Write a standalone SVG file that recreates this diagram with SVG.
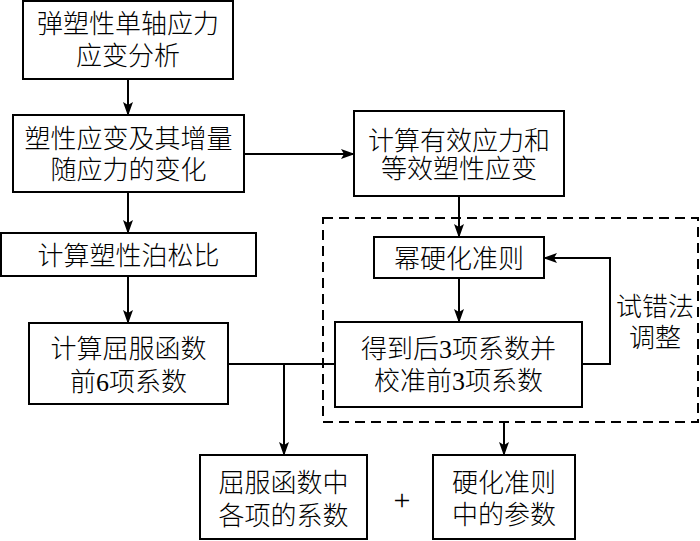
<svg xmlns="http://www.w3.org/2000/svg" width="700" height="541" viewBox="0 0 700 541">
<style>
.box{fill:#fff;stroke:#000;stroke-width:2}
.t{font-family:"Liberation Serif","Noto Sans CJK SC",serif;font-size:26px;font-weight:300;fill:#000;text-anchor:middle}
.c{fill:none;stroke:#000;stroke-width:2}
.dash{fill:none;stroke:#000;stroke-width:2;stroke-dasharray:10 6}
</style>
<defs>
<marker id="ah" markerWidth="14" markerHeight="10" refX="13" refY="5" orient="auto" markerUnits="userSpaceOnUse">
<path d="M0,0 L14,5 L0,10 L3,5 z" fill="#000"/>
</marker>
</defs>
<rect class="dash" x="323" y="218" width="375" height="204"/>
<g id="connectors">
<path class="c" d="M128,79 V115" marker-end="url(#ah)"/>
<path class="c" d="M128,192 V233" marker-end="url(#ah)"/>
<path class="c" d="M128,276 V323" marker-end="url(#ah)"/>
<path class="c" d="M244,154 H354" marker-end="url(#ah)"/>
<path class="c" d="M459,196 V237" marker-end="url(#ah)"/>
<path class="c" d="M459,278 V322" marker-end="url(#ah)"/>
<path class="c" d="M228,364 H335"/>
<path class="c" d="M284,364 V455" marker-end="url(#ah)"/>
<path class="c" d="M582,364 H610 V258 H544" marker-end="url(#ah)"/>
<path class="c" d="M504,422 V455" marker-end="url(#ah)"/>
</g>
<g id="n1"><rect class="box" x="23" y="1" width="210" height="78"/>
<text class="t" x="128" y="33">弹塑性单轴应力</text><text class="t" x="128" y="65">应变分析</text></g>
<g id="n2"><rect class="box" x="13" y="115" width="231" height="77"/>
<text class="t" x="128.5" y="148">塑性应变及其增量</text><text class="t" x="128.5" y="179">随应力的变化</text></g>
<g id="n3"><rect class="box" x="1" y="233" width="255" height="43"/>
<text class="t" x="128.5" y="265">计算塑性泊松比</text></g>
<g id="n4"><rect class="box" x="29" y="323" width="199" height="81"/>
<text class="t" x="128.5" y="358">计算屈服函数</text><text class="t" x="128.5" y="391">前6项系数</text></g>
<g id="n5"><rect class="box" x="354" y="111" width="210" height="85"/>
<text class="t" x="459" y="150">计算有效应力和</text><text class="t" x="459" y="178">等效塑性应变</text></g>
<g id="n6"><rect class="box" x="374" y="237" width="170" height="41"/>
<text class="t" x="459" y="268">幂硬化准则</text></g>
<g id="n7"><rect class="box" x="335" y="322" width="247" height="85"/>
<text class="t" x="458.5" y="358">得到后3项系数并</text><text class="t" x="458.5" y="390">校准前3项系数</text></g>
<g id="label"><text class="t" x="655" y="316">试错法</text><text class="t" x="655" y="347">调整</text></g>
<g id="n8"><rect class="box" x="200" y="455" width="167" height="84"/>
<text class="t" x="283.5" y="492">屈服函数中</text><text class="t" x="283.5" y="525">各项的系数</text></g>
<g id="plus"><text class="t" x="402" y="510" style="font-size:30px">+</text></g>
<g id="n9"><rect class="box" x="433" y="455" width="142" height="84"/>
<text class="t" x="504" y="492">硬化准则</text><text class="t" x="504" y="524">中的参数</text></g>
</svg>
